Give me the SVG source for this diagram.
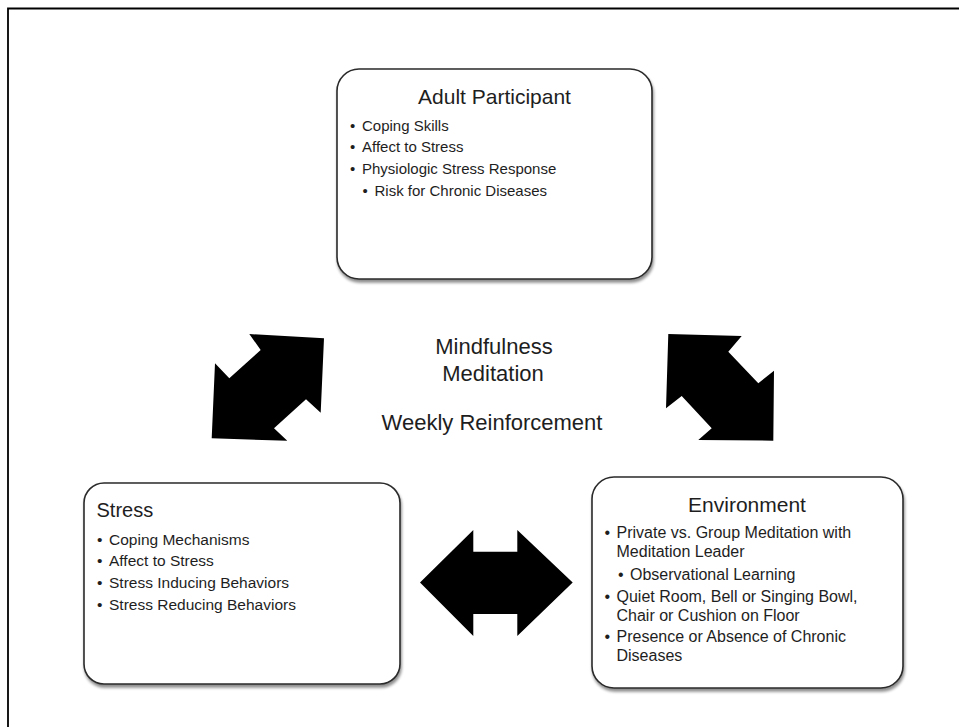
<svg xmlns="http://www.w3.org/2000/svg" width="959" height="727" viewBox="0 0 959 727">
<defs>
<style>
.t{font-family:"Liberation Sans",Arial,sans-serif;fill:#1e1e1e}
.box{fill:#fff;stroke:#2a2a2a;stroke-width:1.6}
.arr{fill:#000}
</style>
<filter id="sh" x="-10%" y="-10%" width="125%" height="125%">
<feGaussianBlur in="SourceAlpha" stdDeviation="1.8"/>
<feOffset dx="1" dy="3" result="b"/>
<feComponentTransfer><feFuncA type="linear" slope="0.45"/></feComponentTransfer>
<feMerge><feMergeNode/><feMergeNode in="SourceGraphic"/></feMerge>
</filter>
</defs>
<rect width="959" height="727" fill="#fff"/>
<path d="M8 727 V8.5 H959" fill="none" stroke="#000" stroke-width="1.8"/>

<g id="connectors">
<polygon class="arr" points="249.3,334 324,338.3 320.7,412.7 306,399.3 274,428.3 287.3,440.7 211.7,438.3 215,363.3 229.3,378.3 260.7,350"/>
<polygon class="arr" points="668.3,334 741.7,336 728.3,351.7 758.3,383.3 774,370.7 773.3,440.7 698.3,440 711.7,428.3 681.7,396 666,408.3"/>
<polygon class="arr" points="420,582.5 473.3,530 473.3,551.7 517.3,551.7 517.3,530 572.7,582.5 517.3,636 517.3,614 473.3,614 473.3,636"/>
</g>

<g id="node-adult">
<rect class="box" x="337" y="69" width="315" height="210" rx="22" filter="url(#sh)"/>
<text class="t" x="494.5" y="104" font-size="21" text-anchor="middle">Adult Participant</text>
<g font-size="15">
<text class="t" x="350" y="131">•</text><text class="t" x="362" y="131">Coping Skills</text>
<text class="t" x="350" y="152">•</text><text class="t" x="362" y="152">Affect to Stress</text>
<text class="t" x="350" y="174">•</text><text class="t" x="362" y="174">Physiologic Stress Response</text>
<text class="t" x="362.5" y="196">•</text><text class="t" x="374.5" y="196">Risk for Chronic Diseases</text>
</g>
</g>

<g id="node-stress">
<rect class="box" x="84" y="483" width="316" height="201" rx="20" filter="url(#sh)"/>
<text class="t" x="96.5" y="517" font-size="20">Stress</text>
<g font-size="15.5">
<text class="t" x="97" y="545">•</text><text class="t" x="109" y="545">Coping Mechanisms</text>
<text class="t" x="97" y="566">•</text><text class="t" x="109" y="566">Affect to Stress</text>
<text class="t" x="97" y="588">•</text><text class="t" x="109" y="588">Stress Inducing Behaviors</text>
<text class="t" x="97" y="610">•</text><text class="t" x="109" y="610">Stress Reducing Behaviors</text>
</g>
</g>

<g id="node-environment">
<rect class="box" x="592" y="477" width="311" height="211" rx="22" filter="url(#sh)"/>
<text class="t" x="747" y="512" font-size="21" text-anchor="middle">Environment</text>
<g font-size="16">
<text class="t" x="604.5" y="538">•</text><text class="t" x="616.5" y="538">Private vs. Group Meditation with</text>
<text class="t" x="616.5" y="557">Meditation Leader</text>
<text class="t" x="618" y="580">•</text><text class="t" x="630" y="580">Observational Learning</text>
<text class="t" x="604.5" y="601.5">•</text><text class="t" x="616.5" y="601.5">Quiet Room, Bell or Singing Bowl,</text>
<text class="t" x="616.5" y="620.5">Chair or Cushion on Floor</text>
<text class="t" x="604.5" y="641.5">•</text><text class="t" x="616.5" y="641.5">Presence or Absence of Chronic</text>
<text class="t" x="616.5" y="660.5">Diseases</text>
</g>
</g>

<g id="label-center">
<text class="t" x="494" y="353.5" font-size="22" text-anchor="middle">Mindfulness</text>
<text class="t" x="493" y="381" font-size="22" text-anchor="middle">Meditation</text>
<text class="t" x="492" y="430" font-size="22" text-anchor="middle">Weekly Reinforcement</text>
</g>
</svg>
